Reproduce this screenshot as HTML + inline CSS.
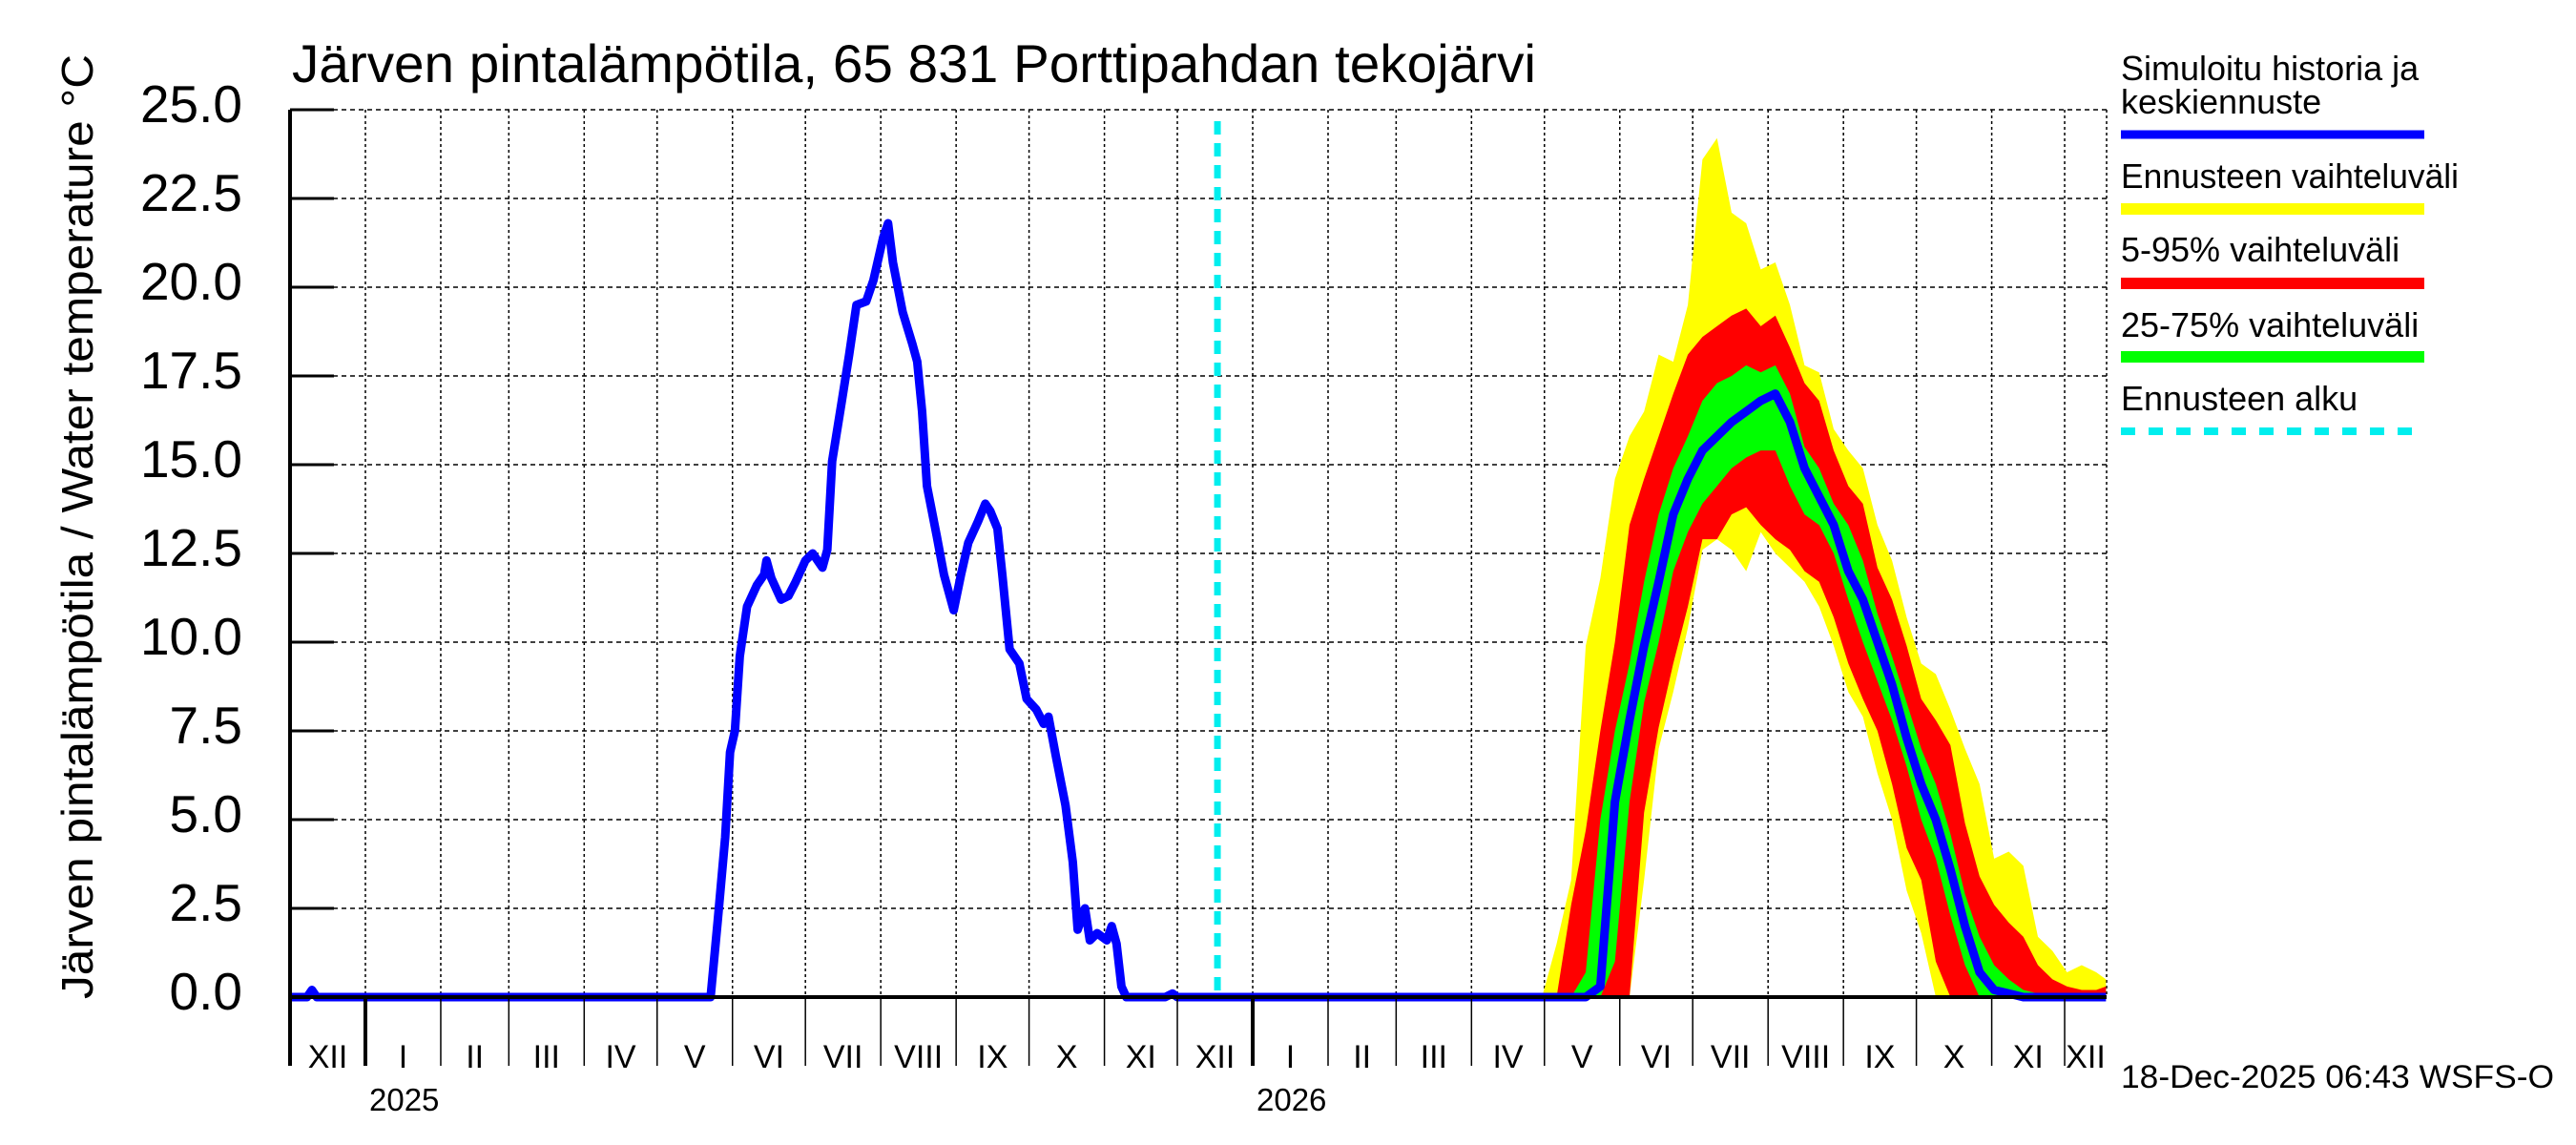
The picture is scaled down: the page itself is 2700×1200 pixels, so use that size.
<!DOCTYPE html>
<html><head><meta charset="utf-8"><style>
html,body{margin:0;padding:0;background:#fff;}
svg{display:block;font-family:"Liberation Sans",Arial,sans-serif;}
</style></head><body>
<svg id="chart" width="2700" height="1200" viewBox="0 0 2700 1200" xmlns="http://www.w3.org/2000/svg">
<rect width="2700" height="1200" fill="#fff"/>
<g id="grid"></g>
<g id="bands"></g>
<g id="lines"></g>
<g id="axes"></g>
<text x="306" y="86" font-size="56" textLength="1304" lengthAdjust="spacingAndGlyphs">Järven pintalämpötila, 65 831 Porttipahdan tekojärvi</text>
<text transform="translate(97,552) rotate(-90)" text-anchor="middle" font-size="46" textLength="990" lengthAdjust="spacingAndGlyphs">Järven pintalämpötila / Water temperature °C</text>
<g>
<text x="2223" y="84" font-size="36">Simuloitu historia ja</text>
<text x="2223" y="119" font-size="36">keskiennuste</text>
<line x1="2223" y1="141" x2="2541" y2="141" stroke="#0000ff" stroke-width="9"/>
<text x="2223" y="197" font-size="36" textLength="354" lengthAdjust="spacingAndGlyphs">Ennusteen vaihteluväli</text>
<line x1="2223" y1="219" x2="2541" y2="219" stroke="#ffff00" stroke-width="12"/>
<text x="2223" y="274" font-size="36">5-95% vaihteluväli</text>
<line x1="2223" y1="297" x2="2541" y2="297" stroke="#ff0000" stroke-width="12"/>
<text x="2223" y="353" font-size="36">25-75% vaihteluväli</text>
<line x1="2223" y1="374" x2="2541" y2="374" stroke="#00ff00" stroke-width="12"/>
<text x="2223" y="430" font-size="36">Ennusteen alku</text>
<line x1="2223" y1="452" x2="2541" y2="452" stroke="#00eeee" stroke-width="8" stroke-dasharray="15,14"/>
</g>
<text x="2223" y="1140" font-size="34" textLength="454" lengthAdjust="spacingAndGlyphs">18-Dec-2025 06:43 WSFS-O</text>
</svg>
<script>
// days since 2024-12-01
const histDays=[0,7,9,11,173,176,179,181,183,185,188,192,195,196,198,202,205,208,212,215,219,221,223,227,230,233,237,240,244,246,248,252,256,258,260,262,266,269,273,276,279,283,286,288,291,293,296,300,303,307,310,312,315,319,322,324,327,329,332,336,338,340,342,344,360,363,365,381];
const histVals=[0,0,0.2,0,0,2.2,4.5,6.9,7.5,9.6,11,11.6,11.9,12.3,11.8,11.2,11.3,11.7,12.3,12.5,12.1,12.6,15.1,16.8,18.1,19.5,19.6,20.2,21.4,21.8,20.7,19.3,18.4,17.9,16.5,14.4,13,11.9,10.9,11.9,12.8,13.4,13.9,13.7,13.2,11.9,9.8,9.4,8.4,8.1,7.7,7.9,6.8,5.4,3.8,1.9,2.5,1.6,1.8,1.6,2,1.5,0.3,0,0,0.1,0,0];
const fcDays=[515,521,527,533,539,545,551,557,563,569,575,581,587,593,599,605,611,617,623,629,635,641,647,653,659,665,671,677,683,689,695,701,707,713,719,725,731,737,743,747];
const yHi=[0,1.5,3.3,9.9,11.8,14.6,15.8,16.5,18.1,17.9,19.5,23.6,24.2,22.1,21.8,20.5,20.7,19.5,17.8,17.6,16.0,15.4,14.9,13.3,12.3,10.7,9.4,9.1,8.1,7.0,6.0,3.9,4.1,3.7,1.7,1.3,0.7,0.9,0.7,0.5];
const yLo=[0,0,0,0,0,0,0,3.3,7.0,8.6,10.4,12.6,12.9,12.6,12.0,13.1,12.5,12.1,11.7,11.0,9.9,8.6,7.9,6.3,5.0,3.0,1.8,0,0,0,0,0,0,0,0,0,0,0,0,0];
const rHi=[0,0,2.6,4.7,7.5,10.0,13.3,14.6,15.8,17.0,18.1,18.6,18.9,19.2,19.4,18.9,19.2,18.3,17.3,16.8,15.4,14.4,13.9,12.1,11.2,9.9,8.4,7.8,7.1,4.9,3.4,2.6,2.1,1.7,0.9,0.5,0.3,0.2,0.2,0.3];
const rLo=[0,0,0,0,0,0,0,5.2,7.6,9.4,11.0,12.9,12.9,13.6,13.8,13.3,12.9,12.6,12.0,11.7,10.7,9.4,8.4,7.5,6.0,4.2,3.3,1.0,0,0,0,0,0,0,0,0,0,0,0,0];
const gHi=[0,0,0,0.7,5.0,7.5,9.4,11.7,13.6,14.9,15.8,16.8,17.3,17.5,17.8,17.6,17.8,17.0,15.5,14.9,13.9,13.3,12.3,10.8,9.6,8.3,7.0,6.0,4.6,2.9,1.7,0.9,0.5,0.2,0.1,0,0,0,0,0];
const gLo=[0,0,0,0,0,1.0,5.5,8.3,10.0,12.0,13.1,13.9,14.4,14.9,15.2,15.4,15.4,14.4,13.6,13.3,12.5,11.2,10.0,8.9,7.8,6.5,5.0,3.9,2.3,0.9,0,0,0,0,0,0,0,0,0,0];
const med=[0,0,0,0,0.3,5.5,7.8,9.9,11.7,13.6,14.6,15.4,15.8,16.2,16.5,16.8,17.0,16.2,14.9,14.1,13.3,12.0,11.2,10.0,8.8,7.3,6.0,5.0,3.6,2.0,0.7,0.2,0.1,0,0,0,0,0,0,0];
const yTicks=[0,2.5,5,7.5,10,12.5,15,17.5,20,22.5,25];
const monthNames=["I","II","III","IV","V","VI","VII","VIII","IX","X","XI","XII"];
const forecastStartDay=381.5;
const NS="http://www.w3.org/2000/svg";
const X0=304,X1=2208,Y0=1045,Y1=115,PXD=2.548,MAXD=(X1-X0)/PXD;
function xs(d){return X0+d*PXD;}
function ys(v){return Y0-(v/25)*(Y0-Y1);}
function mk(tag,attrs,parent){const e=document.createElementNS(NS,tag);for(const k in attrs)e.setAttribute(k,attrs[k]);parent.appendChild(e);return e;}
const grid=document.getElementById('grid'),axes=document.getElementById('axes'),bands=document.getElementById('bands'),lines=document.getElementById('lines');
yTicks.forEach(v=>{
  const y=ys(v);
  if(v>0){const g=mk('line',{x1:X0,y1:y,x2:X1,y2:y,stroke:'#000','stroke-width':1.5,'stroke-dasharray':'5,4'},grid);
  
  }
  const t=mk('line',{x1:X0,y1:y,x2:X0+46,y2:y,stroke:'#000','stroke-width':3},axes);
  
  
  const l=mk('text',{x:254,y:y+13,'text-anchor':'end','font-size':55},axes);
  l.textContent=v.toFixed(1);
  
  
});
const base=Date.UTC(2024,11,1);
let bounds=[];
for(let i=0;i<26;i++){const dt=new Date(Date.UTC(2024,11+i,1));const d=(dt-base)/86400000;if(d<=MAXD+0.5)bounds.push({d:d,m:dt.getUTCMonth(),y:dt.getUTCFullYear()});}
bounds.forEach((b,i)=>{
  const x=xs(b.d);
  if(i>0){const g=mk('line',{x1:x,y1:Y1,x2:x,y2:Y0,stroke:'#000','stroke-width':1.5,'stroke-dasharray':'3,3'},grid);
  
  }
  const t=mk('line',{x1:x,y1:Y0,x2:x,y2:1117,stroke:'#000','stroke-width':b.m===0?4:1.5},axes);
  
  
  const next=i+1<bounds.length?bounds[i+1].d:MAXD;
  const xm=(x+xs(next))/2;
  const l=mk('text',{x:xm,y:1119,'text-anchor':'middle','font-size':34},axes);
  l.textContent=monthNames[b.m];
  
  
  if(b.m===0){const yl=mk('text',{x:x+4,y:1164,'font-size':33},axes);
  yl.textContent=String(b.y);
  
  }
});
{const g=mk('line',{x1:X1,y1:Y1,x2:X1,y2:Y0,stroke:'#000','stroke-width':1.5,'stroke-dasharray':'3,3'},grid);

}
function band(hi,lo,color,name){
  let pts=fcDays.map((d,i)=>xs(d)+','+ys(hi[i]));
  for(let i=fcDays.length-1;i>=0;i--)pts.push(xs(fcDays[i])+','+ys(lo[i]));
  const p=mk('polygon',{points:pts.join(' '),fill:color},bands);
  
  
}
band(yHi,yLo,'#ffff00','band-full-range');
band(rHi,rLo,'#ff0000','band-5-95');
band(gHi,gLo,'#00ff00','band-25-75');
{const a=mk('line',{x1:X0,y1:Y0,x2:X1,y2:Y0,stroke:'#000','stroke-width':4},axes);


const b=mk('line',{x1:X0,y1:Y1,x2:X0,y2:1117,stroke:'#000','stroke-width':4},axes);

}
{const f=mk('line',{x1:xs(forecastStartDay),y1:127,x2:xs(forecastStartDay),y2:Y0,stroke:'#00eeee','stroke-width':7,'stroke-dasharray':'14,9'},lines);

}
{let pts=histDays.map((d,i)=>xs(d)+','+ys(histVals[i]));
fcDays.forEach((d,i)=>pts.push(xs(d)+','+ys(med[i])));
const p=mk('polyline',{points:pts.join(' '),fill:'none',stroke:'#0000ff','stroke-width':9,'stroke-linejoin':'round'},lines);

}
</script>
</body></html>
